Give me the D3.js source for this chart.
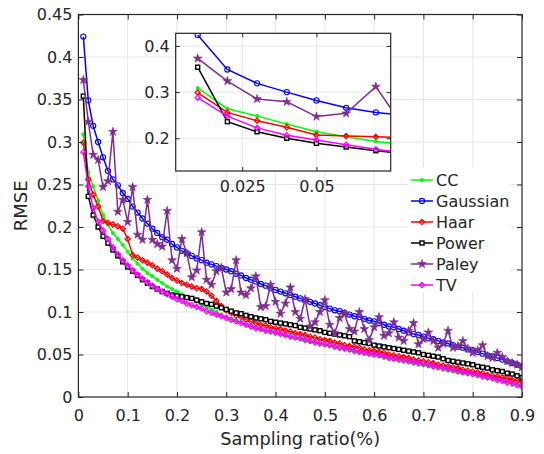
<!DOCTYPE html>
<html>
<head>
<meta charset="utf-8">
<script src="https://cdn.jsdelivr.net/npm/d3@7.9.0/dist/d3.min.js"></script>
<style>
  body { margin: 0; background: #fff; }
  svg text { font-family: "DejaVu Sans", sans-serif; fill: #262626; }
</style>
</head>
<body>
<svg id="chart" width="544" height="454"></svg>
<script>
// sampling ratios (x) and RMSE per method
const ratios = [0.01,0.02,0.03,0.04,0.05,0.06,0.07,0.08,0.09,0.10,0.11,0.12,0.13,0.14,0.15,0.16,0.17,0.18,0.19,0.20,
  0.21,0.22,0.23,0.24,0.25,0.26,0.27,0.28,0.29,0.30,0.31,0.32,0.33,0.34,0.35,0.36,0.37,0.38,0.39,0.40,
  0.41,0.42,0.43,0.44,0.45,0.46,0.47,0.48,0.49,0.50,0.51,0.52,0.53,0.54,0.55,0.56,0.57,0.58,0.59,0.60,
  0.61,0.62,0.63,0.64,0.65,0.66,0.67,0.68,0.69,0.70,0.71,0.72,0.73,0.74,0.75,0.76,0.77,0.78,0.79,0.80,
  0.81,0.82,0.83,0.84,0.85,0.86,0.87,0.88,0.89,0.90];

const cc = [0.309,0.264,0.248,0.231,0.214,0.203,0.193,0.186,0.179,0.171,0.163,0.157,0.151,0.146,0.142,0.138,0.134,0.130,0.127,0.124,
  0.121,0.118,0.115,0.112,0.109,0.106,0.103,0.100,0.097,0.094,0.092,0.090,0.088,0.086,0.084,0.082,0.080,0.078,0.077,0.075,
  0.074,0.072,0.071,0.069,0.068,0.066,0.065,0.064,0.062,0.061,0.060,0.058,0.057,0.056,0.055,0.053,0.052,0.051,0.050,0.049,
  0.048,0.046,0.045,0.044,0.043,0.042,0.041,0.039,0.038,0.037,0.036,0.035,0.034,0.032,0.031,0.030,0.029,0.028,0.027,0.026,
  0.025,0.024,0.022,0.021,0.020,0.019,0.018,0.016,0.015,0.014];

const gaussian = [0.424,0.349,0.319,0.300,0.282,0.266,0.256,0.249,0.240,0.233,0.224,0.217,0.210,0.204,0.198,0.193,0.188,0.185,0.180,0.176,
  0.172,0.169,0.166,0.163,0.161,0.158,0.156,0.154,0.152,0.150,0.148,0.145,0.143,0.140,0.138,0.136,0.133,0.131,0.128,0.126,
  0.124,0.122,0.120,0.118,0.116,0.114,0.112,0.110,0.108,0.106,0.104,0.102,0.101,0.099,0.097,0.095,0.094,0.092,0.090,0.089,
  0.087,0.085,0.083,0.082,0.080,0.078,0.076,0.074,0.073,0.071,0.069,0.068,0.066,0.064,0.063,0.061,0.059,0.058,0.056,0.055,
  0.053,0.051,0.049,0.048,0.046,0.044,0.042,0.040,0.038,0.036];

const haar = [0.299,0.256,0.238,0.224,0.207,0.205,0.203,0.201,0.198,0.186,0.167,0.164,0.161,0.158,0.155,0.151,0.148,0.144,0.140,0.137,
  0.134,0.132,0.130,0.128,0.127,0.124,0.119,0.113,0.107,0.102,0.099,0.096,0.094,0.091,0.089,0.087,0.085,0.084,0.082,0.081,
  0.080,0.078,0.077,0.075,0.074,0.073,0.071,0.070,0.068,0.067,0.066,0.064,0.063,0.061,0.060,0.059,0.058,0.056,0.055,0.054,
  0.053,0.052,0.050,0.049,0.048,0.047,0.046,0.044,0.043,0.042,0.041,0.040,0.038,0.037,0.036,0.035,0.034,0.032,0.031,0.030,
  0.029,0.028,0.026,0.025,0.024,0.023,0.022,0.020,0.019,0.018];

const power = [0.354,0.236,0.214,0.200,0.189,0.181,0.173,0.166,0.159,0.153,0.148,0.143,0.138,0.134,0.130,0.127,0.124,0.122,0.120,0.119,
  0.118,0.117,0.116,0.114,0.112,0.110,0.109,0.107,0.105,0.103,0.101,0.099,0.098,0.096,0.0945,0.093,0.092,0.091,0.089,0.088,
  0.087,0.086,0.085,0.084,0.082,0.081,0.080,0.079,0.078,0.076,0.075,0.074,0.073,0.072,0.071,0.066,0.065,0.064,0.063,0.061,
  0.060,0.059,0.058,0.057,0.056,0.055,0.054,0.053,0.052,0.050,0.049,0.048,0.047,0.045,0.043,0.042,0.041,0.040,0.039,0.038,
  0.036,0.035,0.034,0.032,0.031,0.030,0.028,0.027,0.025,0.023];

const paley = [0.373,0.324,0.285,0.279,0.247,0.254,0.312,0.218,0.232,0.206,0.247,0.191,0.185,0.232,0.185,0.180,0.177,0.219,0.161,0.151,
  0.186,0.169,0.141,0.149,0.194,0.138,0.132,0.148,0.152,0.123,0.127,0.161,0.123,0.120,0.128,0.142,0.106,0.107,0.132,0.112,
  0.098,0.110,0.129,0.100,0.092,0.115,0.083,0.088,0.100,0.114,0.085,0.075,0.093,0.098,0.080,0.077,0.100,0.080,0.067,0.082,
  0.094,0.072,0.075,0.088,0.070,0.066,0.078,0.087,0.062,0.068,0.076,0.066,0.058,0.063,0.078,0.058,0.060,0.066,0.057,0.052,
  0.055,0.061,0.048,0.046,0.052,0.047,0.042,0.040,0.038,0.035];

const tv = [0.288,0.248,0.2225,0.2065,0.196,0.186,0.176,0.168,0.161,0.155,0.149,0.144,0.139,0.135,0.131,0.127,0.124,0.121,0.118,0.115,
  0.113,0.110,0.108,0.106,0.104,0.101,0.099,0.097,0.095,0.093,0.091,0.089,0.087,0.085,0.083,0.081,0.080,0.078,0.077,0.076,
  0.074,0.073,0.071,0.070,0.069,0.067,0.066,0.064,0.063,0.062,0.061,0.059,0.058,0.057,0.056,0.054,0.053,0.052,0.051,0.050,
  0.049,0.048,0.046,0.045,0.044,0.043,0.042,0.041,0.040,0.039,0.038,0.036,0.035,0.034,0.033,0.032,0.030,0.029,0.028,0.027,
  0.026,0.024,0.023,0.022,0.020,0.019,0.017,0.016,0.014,0.012];

const methods = ["CC", "Gaussian", "Haar", "Power", "Paley", "TV"];
const colors = ["#00ff00", "#0000ff", "#ff0000", "#000000", "#7e2f8e", "#ff00ff"];
const markers = ["dot", "circle", "diamond", "square", "star", "diamond2"];
const seriesValues = [cc, gaussian, haar, power, paley, tv];

const xTicks = [0, 0.1, 0.2, 0.3, 0.4, 0.5, 0.6, 0.7, 0.8, 0.9];
const xTickLabels = ["0", "0.1", "0.2", "0.3", "0.4", "0.5", "0.6", "0.7", "0.8", "0.9"];
const yTicks = [0, 0.05, 0.1, 0.15, 0.2, 0.25, 0.3, 0.35, 0.4, 0.45];
const yTickLabels = ["0", "0.05", "0.1", "0.15", "0.2", "0.25", "0.3", "0.35", "0.4", "0.45"];
const insetXTicks = [0.025, 0.05];
const insetXTickLabels = ["0.025", "0.05"];
const insetYTicks = [0.2, 0.3, 0.4];
const insetYTickLabels = ["0.2", "0.3", "0.4"];

const series = methods.map((name, i) => ({
  name, color: colors[i], marker: markers[i],
  points: ratios.map((r, j) => ({ x: r, y: seriesValues[i][j] }))
}));

const svg = d3.select("#chart");

// main axes box
const x = d3.scaleLinear().domain([0, 0.9]).range([78.4, 522]);
const y = d3.scaleLinear().domain([0, 0.45]).range([397, 14.5]);

function drawMarker(sel, kind, color) {
  if (kind === "circle") {
    sel.append("circle").attr("r", 2.6).attr("fill", "none").attr("stroke", color).attr("stroke-width", 1.1);
  } else if (kind === "dot") {
    sel.append("circle").attr("r", 2).attr("fill", color);
  } else if (kind === "square") {
    sel.append("rect").attr("x", -2).attr("y", -2).attr("width", 4).attr("height", 4)
      .attr("fill", "#fff").attr("stroke", color).attr("stroke-width", 1.4);
  } else if (kind === "diamond" || kind === "diamond2") {
    sel.append("path").attr("d", d3.symbol(d3.symbolDiamond2, 18)())
      .attr("fill", "none").attr("stroke", color).attr("stroke-width", 1.2);
  } else if (kind === "star") {
    sel.append("path").attr("d", d3.symbol(d3.symbolStar, 24)()).attr("fill", color)
      .attr("stroke", color).attr("stroke-width", 0.6);
  }
}

function drawSeries(g, sx, sy, pts) {
  const line = d3.line().x(d => sx(d.x)).y(d => sy(d.y));
  series.forEach(s => {
    const data = pts(s.points);
    g.append("path").datum(data).attr("d", line)
      .attr("fill", "none").attr("stroke", s.color).attr("stroke-width", 1.5);
    g.selectAll(null).data(data).enter().append("g")
      .attr("transform", d => `translate(${sx(d.x)},${sy(d.y)})`)
      .each(function () { drawMarker(d3.select(this), s.marker, s.color); });
  });
}

// grid
const grid = svg.append("g").attr("stroke", "#e6e6e6").attr("stroke-width", 1);
grid.selectAll(null).data(xTicks.slice(1, -1)).enter().append("line")
  .attr("x1", d => x(d)).attr("x2", d => x(d)).attr("y1", y(0)).attr("y2", y(0.45));
grid.selectAll(null).data(yTicks.slice(1, -1)).enter().append("line")
  .attr("y1", d => y(d)).attr("y2", d => y(d)).attr("x1", x(0)).attr("x2", x(0.9));

svg.append("defs").append("clipPath").attr("id", "mainclip")
  .append("rect").attr("x", x(0)).attr("y", y(0.45)).attr("width", x(0.9) - x(0)).attr("height", y(0) - y(0.45));
drawSeries(svg.append("g").attr("clip-path", "url(#mainclip)"), x, y, p => p);

// axes with inward ticks
function fmt(ticks, labels) { return d => labels[ticks.indexOf(d)]; }
const axisStyle = g => {
  g.select(".domain").remove();
  g.selectAll(".tick line").attr("stroke", "#262626");
  g.selectAll(".tick text").attr("font-size", 16).attr("fill", "#262626")
    .style("font-family", "DejaVu Sans, sans-serif");
};
svg.append("g").attr("transform", `translate(0,${y(0)})`)
  .call(d3.axisBottom(x).tickValues(xTicks).tickFormat(fmt(xTicks, xTickLabels)).tickSize(-5).tickPadding(13))
  .call(axisStyle);
svg.append("g").attr("transform", `translate(0,${y(0.45)})`)
  .call(d3.axisTop(x).tickValues(xTicks).tickFormat("").tickSize(-5)).call(axisStyle);
svg.append("g").attr("transform", `translate(${x(0)},0)`)
  .call(d3.axisLeft(y).tickValues(yTicks).tickFormat(fmt(yTicks, yTickLabels)).tickSize(-5).tickPadding(6))
  .call(axisStyle);
svg.append("g").attr("transform", `translate(${x(0.9)},0)`)
  .call(d3.axisRight(y).tickValues(yTicks).tickFormat("").tickSize(-5)).call(axisStyle);
svg.append("rect").attr("x", x(0)).attr("y", y(0.45)).attr("width", x(0.9) - x(0)).attr("height", y(0) - y(0.45))
  .attr("fill", "none").attr("stroke", "#262626").attr("stroke-width", 1.2);

// axis titles
svg.append("text").attr("x", (x(0) + x(0.9)) / 2).attr("y", 445).attr("text-anchor", "middle")
  .attr("font-size", 17.7).text("Sampling ratio(%)");
svg.append("text").attr("transform", `translate(27,${y(0.225)}) rotate(-90)`).attr("text-anchor", "middle")
  .attr("font-size", 18).text("RMSE");

// legend
const lg = svg.append("g");
lg.append("rect").attr("x", 408).attr("y", 167).attr("width", 102).attr("height", 125).attr("fill", "#fff");
series.forEach((s, i) => {
  const ly = 180 + i * 21;
  const row = lg.append("g");
  row.append("line").attr("x1", 411).attr("x2", 433).attr("y1", ly).attr("y2", ly)
    .attr("stroke", s.color).attr("stroke-width", 1.5);
  drawMarker(row.append("g").attr("transform", `translate(422,${ly})`), s.marker, s.color);
  row.append("text").attr("x", 436).attr("y", ly).attr("dy", "0.36em").attr("font-size", 16).text(s.name);
});

// inset zoom on the first sampling ratios
const ix = d3.scaleLinear().domain([0.0026, 0.075]).range([175.7, 390.7]);
const iy = d3.scaleLinear().domain([0.129, 0.4275]).range([171, 33.3]);
svg.append("rect").attr("x", ix.range()[0]).attr("y", iy.range()[1])
  .attr("width", ix.range()[1] - ix.range()[0]).attr("height", iy.range()[0] - iy.range()[1]).attr("fill", "#fff");
const igrid = svg.append("g").attr("stroke", "#e6e6e6");
igrid.selectAll(null).data(insetXTicks).enter().append("line")
  .attr("x1", d => ix(d)).attr("x2", d => ix(d)).attr("y1", iy.range()[0]).attr("y2", iy.range()[1]);
igrid.selectAll(null).data(insetYTicks).enter().append("line")
  .attr("y1", d => iy(d)).attr("y2", d => iy(d)).attr("x1", ix.range()[0]).attr("x2", ix.range()[1]);
svg.select("defs").append("clipPath").attr("id", "insetclip")
  .append("rect").attr("x", ix.range()[0]).attr("y", iy.range()[1])
  .attr("width", ix.range()[1] - ix.range()[0]).attr("height", iy.range()[0] - iy.range()[1]);
drawSeries(svg.append("g").attr("clip-path", "url(#insetclip)"), ix, iy, p => p.filter(d => d.x <= 0.085));

svg.append("g").attr("transform", `translate(0,${iy.range()[0]})`)
  .call(d3.axisBottom(ix).tickValues(insetXTicks).tickFormat(fmt(insetXTicks, insetXTickLabels)).tickSize(-4).tickPadding(10))
  .call(axisStyle);
svg.append("g").attr("transform", `translate(0,${iy.range()[1]})`)
  .call(d3.axisTop(ix).tickValues(insetXTicks).tickFormat("").tickSize(-4)).call(axisStyle);
svg.append("g").attr("transform", `translate(${ix.range()[0]},0)`)
  .call(d3.axisLeft(iy).tickValues(insetYTicks).tickFormat(fmt(insetYTicks, insetYTickLabels)).tickSize(-4).tickPadding(6))
  .call(axisStyle);
svg.append("g").attr("transform", `translate(${ix.range()[1]},0)`)
  .call(d3.axisRight(iy).tickValues(insetYTicks).tickFormat("").tickSize(-4)).call(axisStyle);
svg.append("rect").attr("x", ix.range()[0]).attr("y", iy.range()[1])
  .attr("width", ix.range()[1] - ix.range()[0]).attr("height", iy.range()[0] - iy.range()[1])
  .attr("fill", "none").attr("stroke", "#262626").attr("stroke-width", 1.2);
</script>
</body>
</html>
